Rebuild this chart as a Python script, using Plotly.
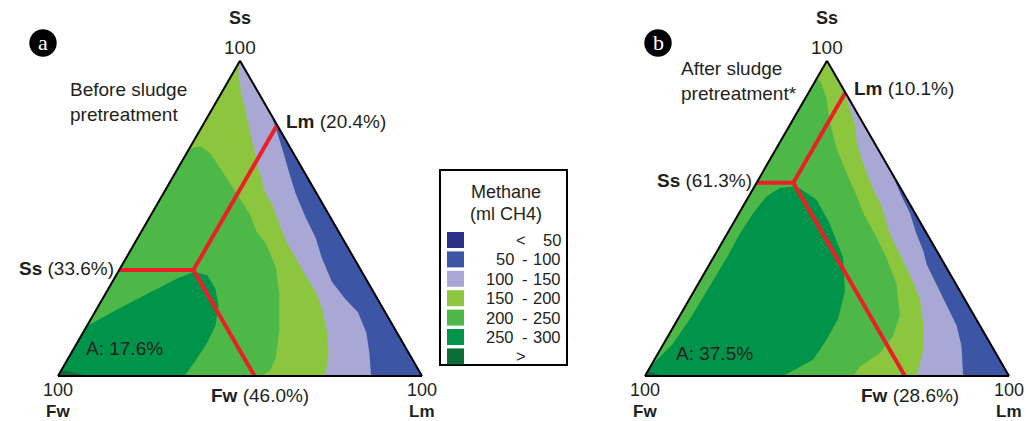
import math
import plotly.graph_objects as go

W, H = 1026, 421
FONT = "Liberation Sans, Arial, sans-serif"
TXT = "#231f20"

# ---------------- legend / contour levels ----------------
level_lo = ["<", "50", "100", "150", "200", "250", ">"]
level_hi = ["50", "100", "150", "200", "250", "300", ""]
level_colors = ["#2e3088", "#3d55a5", "#a9a8d4", "#8cc63f", "#4db848", "#00944a", "#0b6e37"]

# ---------------- panel a: before pretreatment ----------------
# contour boundaries given as Ss % and Lm % (Fw = 100 - Ss - Lm)
a_b100_ss = [84.8, 82.6, 78.3, 71.8, 64.3, 57.8, 50.3, 43.9, 37.4, 29.9, 24.5, 20.2, 13.8, 7.3, 0]
a_b100_lm = [15.2, 17.3, 20.8, 25.8, 31.4, 36.4, 42.9, 48.8, 53.8, 60.3, 66.6, 72.3, 77.8, 81.9, 86.0]
a_b150_ss = [100, 95.5, 89.0, 82.6, 75.2, 66.5, 58.4, 54.6, 48.2, 42.8, 37.4, 32.0, 26.7, 21.3, 13.8, 7.3, 0]
a_b150_lm = [0, 1.8, 6.0, 10.5, 15.6, 21.7, 27.6, 31.5, 36.7, 41.2, 46.6, 52.0, 57.4, 61.9, 67.0, 70.7, 73.4]
a_b200_ss = [72.0, 72.9, 70.7, 64.3, 57.8, 51.4, 46.0, 41.7, 34.2, 25.6, 14.8, 6.2, 1.9, 0]
a_b200_lm = [0, 2.7, 6.5, 13.3, 20.2, 27.0, 31.5, 36.4, 42.8, 48.0, 53.4, 56.8, 57.5, 56.0]
a_b250_ss = [15.9, 21.3, 26.7, 31.0, 33.1, 32.0, 27.7, 22.4, 15.9, 10.5, 4.1, 0]
a_b250_lm = [0, 6.0, 12.3, 17.4, 20.8, 25.0, 29.4, 32.9, 35.3, 35.7, 35.3, 34.7]
a_b300_ss = [1.9, 1.3, 0]
a_b300_lm = [0, 3.4, 8.1]
a_opt = dict(ss=33.6, fw=46.0, lm=20.4)
a_area = 17.6

# ---------------- panel b: after pretreatment ----------------
b_b100_ss = [65.0, 57.0, 51.6, 45.1, 39.7, 35.4, 28.9, 22.4, 16.0, 9.5, 0]
b_b100_lm = [35.0, 42.0, 47.0, 52.0, 56.6, 59.7, 65.7, 71.7, 77.6, 82.2, 87.4]
b_b150_ss = [90.9, 79.6, 74.2, 68.8, 60.2, 53.7, 45.1, 38.6, 32.1, 24.6, 16.0, 8.4, 0]
b_b150_lm = [9.1, 17.9, 21.1, 25.1, 32.2, 38.2, 44.7, 50.7, 56.7, 63.2, 68.5, 72.3, 74.7]
b_b200_ss = [94.0, 93.6, 88.3, 80.7, 72.1, 64.5, 57.0, 51.6, 44.0, 37.5, 28.9, 19.2, 12.7, 7.3, 3.0, 0]
b_b200_lm = [0, 1.3, 5.7, 10.4, 16.6, 23.1, 29.7, 34.2, 41.6, 47.6, 54.7, 60.4, 61.8, 60.9, 57.6, 57.2]
b_b250_ss = [3.0, 10.0, 18.1, 26.8, 37.5, 45.1, 51.6, 57.0, 59.6, 60.2, 55.9, 48.3, 37.5, 26.8, 18.1, 11.6, 5.2, 0]
b_b250_lm = [0, 2.5, 3.3, 3.5, 3.7, 3.5, 3.9, 4.9, 7.3, 11.6, 19.2, 26.6, 35.7, 41.5, 44.0, 44.1, 43.6, 38.0]
b_b300_ss = [1.5, 0.8, 0]
b_b300_lm = [0, 2.5, 5.0]
b_opt = dict(ss=61.3, fw=28.6, lm=10.1)
b_area = 37.5

SQ3 = math.sqrt(3) / 2
TRI_A = (58, 422, 376)   # left px, right px, bottom px of triangle
TRI_B = (645, 1009, 376)


def tpx(tri, ss, lm):
    left, right, bottom = tri
    w = right - left
    h = w * SQ3
    return left + (lm / 100 + ss / 200) * w, bottom - ss / 100 * h


def px(x):
    return x / W


def py(y):
    return 1 - y / H


def tern_layout(tri):
    left, right, bottom = tri
    h = (right - left) * SQ3
    ax = dict(showline=True, linecolor="black", linewidth=2, showgrid=False,
              ticks="", showticklabels=False, title=dict(text=""), min=0)
    return dict(sum=100, bgcolor="white",
                domain=dict(x=[px(left), px(right)], y=[py(bottom), py(bottom - h)]),
                aaxis=ax, baxis=ax, caxis=ax)


fig = go.Figure()


def add_poly(sub, ss, lm, color):
    fw = [100 - s - l for s, l in zip(ss, lm)]
    fig.add_trace(go.Scatterternary(a=ss, b=fw, c=lm, mode="lines", fill="toself",
                                    fillcolor=color, line=dict(width=0, color=color),
                                    hoverinfo="skip", showlegend=False, subplot=sub))


def add_panel(sub, bounds, opt):
    # base: whole triangle in the 50-100 band
    add_poly(sub, [100, 0, 0], [0, 0, 100], level_colors[1])
    for lvl, (ss, lm) in zip(range(2, 7), bounds):
        ss = list(ss)
        lm = list(lm)
        on_right = (100 - ss[0] - lm[0]) < 0.5 and ss[0] < 99.9
        ss += [0]
        lm += [0]
        if on_right:
            ss += [100]
            lm += [0]
        add_poly(sub, ss, lm, level_colors[lvl])
    # red optimum lines
    s, f, l = opt["ss"], opt["fw"], opt["lm"]
    red = dict(color="#ec1f26", width=4)
    fig.add_trace(go.Scatterternary(a=[s, s, 100 - l], b=[100 - s, f, 0], c=[0, l, l],
                                    mode="lines", line=red, hoverinfo="skip",
                                    showlegend=False, subplot=sub))
    fig.add_trace(go.Scatterternary(a=[s, 0], b=[f, f], c=[l, 100 - f],
                                    mode="lines", line=red, hoverinfo="skip",
                                    showlegend=False, subplot=sub))


add_panel("ternary", [(a_b100_ss, a_b100_lm), (a_b150_ss, a_b150_lm), (a_b200_ss, a_b200_lm),
                      (a_b250_ss, a_b250_lm), (a_b300_ss, a_b300_lm)], a_opt)
add_panel("ternary2", [(b_b100_ss, b_b100_lm), (b_b150_ss, b_b150_lm), (b_b200_ss, b_b200_lm),
                       (b_b250_ss, b_b250_lm), (b_b300_ss, b_b300_lm)], b_opt)

annotations = []
shapes = []


def ann(x, y, text, size=19, xanchor="center", align="left", color=TXT, family=FONT,
        yanchor="middle"):
    annotations.append(dict(x=px(x), y=py(y), xref="paper", yref="paper", text=text,
                            showarrow=False, xanchor=xanchor, yanchor=yanchor, align=align,
                            borderpad=0,
                            font=dict(family=family, size=size, color=color)))


def panel_labels(tri, opt, area, title, letter, letter_xy, title_xy, area_xy):
    left, right, bottom = tri
    apx, apy = tpx(tri, 100, 0)
    ann(apx, apy - 43, "<b>Ss</b>", 18)
    ann(apx, apy - 13, "100")
    ann(left, bottom + 25, "100", 18, yanchor="bottom")
    ann(left, bottom + 25, "<b>Fw</b>", 17, yanchor="top")
    ann(right, bottom + 25, "100", 18, yanchor="bottom")
    ann(right, bottom + 25, "<b>Lm</b>", 17, yanchor="top")
    s, f, l = opt["ss"], opt["fw"], opt["lm"]
    x, y = tpx(tri, s, 0)
    ann(x - 4, y - 2, f"<b>Ss</b> ({s:.1f}%)", xanchor="right")
    x, y = tpx(tri, 100 - l, l)
    ann(x + 8, y - 4, f"<b>Lm</b> ({l:.1f}%)", xanchor="left")
    x, y = tpx(tri, 0, 100 - f)
    ann(x + 5, bottom + 19, f"<b>Fw</b> ({f:.1f}%)")
    ann(area_xy[0], area_xy[1], f"A: {area:.1f}%", xanchor="left")
    ann(title_xy[0], title_xy[1], title, xanchor="left")
    cx, cy = letter_xy
    r = 13.7
    shapes.append(dict(type="circle", xref="paper", yref="paper", x0=px(cx - r), x1=px(cx + r),
                       y0=py(cy + r), y1=py(cy - r), fillcolor="black", line=dict(width=0)))
    ann(cx, cy - 1, letter, 22, color="white", family="Liberation Serif, DejaVu Serif, serif")


panel_labels(TRI_A, a_opt, a_area, "Before sludge<br>pretreatment", "a", (43, 43), (69, 102), (85, 348))
panel_labels(TRI_B, b_opt, b_area, "After sludge<br>pretreatment*", "b", (658, 43), (680, 81), (675, 353))

# ---------------- legend box ----------------
shapes.append(dict(type="rect", xref="paper", yref="paper", x0=px(440), x1=px(567),
                   y0=py(365), y1=py(170), line=dict(color="black", width=2), fillcolor="white"))
ann(506, 192, "Methane", 18)
ann(506, 214, "(ml CH4)", 18)
row0, dy = 240, 19.4
for i, (lo, hi, col) in enumerate(zip(level_lo, level_hi, level_colors)):
    yc = row0 + i * dy
    shapes.append(dict(type="rect", xref="paper", yref="paper", x0=px(447), x1=px(464),
                       y0=py(yc + 8), y1=py(yc - 8), fillcolor=col, line=dict(width=0)))
    if lo in ("<", ">"):
        ann(521, yc, lo, 16.5)
    else:
        ann(515, yc, lo, 16.5, xanchor="right")
        ann(525, yc, "-", 16.5)
    if hi:
        ann(562, yc, hi, 16.5, xanchor="right")

fig.update_layout(
    width=W, height=H, margin=dict(l=0, r=0, t=0, b=0),
    paper_bgcolor="white", plot_bgcolor="white", showlegend=False,
    ternary=tern_layout(TRI_A), ternary2=tern_layout(TRI_B),
    annotations=annotations, shapes=shapes,
)

fig.write_html("out.html", config={"displayModeBar": False},
               post_script="document.body.style.margin='0px';document.body.style.overflow='hidden';")
